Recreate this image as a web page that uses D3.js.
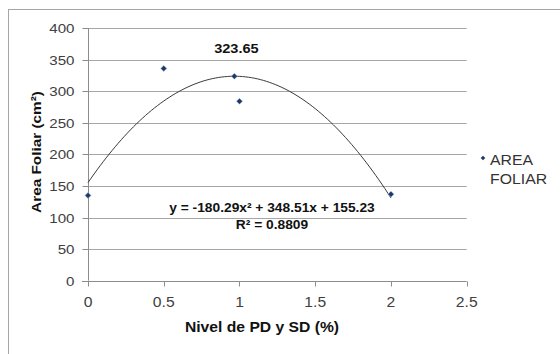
<!DOCTYPE html>
<html><head><meta charset="utf-8">
<script src="https://cdn.jsdelivr.net/npm/d3@7/dist/d3.min.js"></script>
<style>
html,body{margin:0;padding:0;background:#fff;}
svg{display:block;font-family:"Liberation Sans",Arial,sans-serif;}
</style></head>
<body>
<script>
// Data
const xValues = [0, 0.5, 0.9665, 1, 2];
const yValues = [135, 336, 323.65, 284, 137];
const xTicks = [0, 0.5, 1, 1.5, 2, 2.5];
const yTicks = [0, 50, 100, 150, 200, 250, 300, 350, 400];
const coefA = -180.29, coefB = 348.51, coefC = 155.23;
const peakLabel = "323.65";
const eqLabel = "y = -180.29x² + 348.51x + 155.23";
const r2Label = "R² = 0.8809";
const seriesName = ["AREA", "FOLIAR"];
const xTitle = "Nivel de PD y SD (%)";
const yTitle = "Area Foliar (cm²)";

const W = 560, H = 354, SX = 1.12;
const svg = d3.select("body").append("svg").attr("width", W).attr("height", H);

// outer border
svg.append("rect").attr("x", 8.5).attr("y", 9.5).attr("width", W + 10).attr("height", H + 10)
  .attr("fill", "none").attr("stroke", "#a6a6a6").attr("stroke-width", 1);

const x = d3.scaleLinear().domain([0, 2.5]).range([88, 466.7]);
const y = d3.scaleLinear().domain([0, 400]).range([280.7, 28]);

function stext(g, tx, ty, str, opts) {
  const t = g.append("text")
    .attr("transform", `translate(${tx},${ty}) scale(${opts.sx || SX},1)`)
    .attr("text-anchor", opts.anchor || "start")
    .attr("font-size", opts.size || 12)
    .attr("font-weight", opts.weight || "normal")
    .attr("fill", opts.fill || "#404040")
    .text(str);
  if (opts.family) t.attr("font-family", opts.family);
  return t;
}
const diamond = r => `M0,${-r}L${r},0L0,${r}L${-r},0Z`;

// grid
svg.append("g").selectAll("line").data(yTicks.filter(d => d > 0)).join("line")
  .attr("x1", x(0)).attr("x2", x(2.5))
  .attr("y1", d => Math.round(y(d)) + 0.5).attr("y2", d => Math.round(y(d)) + 0.5)
  .attr("stroke", "#a6a6a6").attr("stroke-width", 1);

// axes
const xa = svg.append("g").attr("transform", `translate(0,${Math.round(y(0)) + 0.5})`)
  .call(d3.axisBottom(x).tickValues(xTicks).tickSize(5).tickFormat(""));
const ya = svg.append("g").attr("transform", `translate(${Math.round(x(0)) + 0.5},0)`)
  .call(d3.axisLeft(y).tickValues(yTicks).tickSize(6).tickFormat(""));
[xa, ya].forEach(a => {
  a.select(".domain").attr("stroke", "#8c8c8c");
  a.selectAll(".tick line").attr("stroke", "#8c8c8c");
});
ya.select(".domain").attr("d", `M0,${y(400)}V${y(0)}`);
xa.select(".domain").attr("d", `M${x(0) - 6},0H${x(2.5)}`);
xa.selectAll(".tick").attr("transform", d => `translate(${Math.round(x(d)) + 0.5},0)`);
ya.selectAll(".tick").attr("transform", d => `translate(0,${Math.round(y(d)) + 0.5})`);

// tick labels
const lab = svg.append("g");
xTicks.forEach(d => stext(lab, x(d), 307, d3.format("")(d), {anchor: "middle", size: 14}));
yTicks.forEach(d => stext(lab, 74.5, y(d) + 5, String(d), {anchor: "end", size: 13.5}));

// trendline
const curveX = d3.range(0, 2.0001, 0.02);
const line = d3.line().x(d => x(d)).y(d => y(coefA * d * d + coefB * d + coefC)).curve(d3.curveMonotoneX);
svg.append("path").datum(curveX).attr("d", line).attr("fill", "none")
  .attr("stroke", "#3a3a3a").attr("stroke-width", 1);

// points
svg.append("g").selectAll("path").data(xValues.map((d, i) => [d, yValues[i]])).join("path")
  .attr("d", diamond(3)).attr("transform", d => `translate(${x(d[0])},${y(d[1])})`)
  .attr("fill", "#1f3864").attr("stroke", "#9db8de").attr("stroke-width", 0.5);

// labels
stext(svg, x(0.9665) + 2, 53, peakLabel, {anchor: "middle", size: 13, weight: "bold", fill: "#111"});
stext(svg, 272, 212, eqLabel, {anchor: "middle", size: 12.3, weight: "bold", fill: "#111"});
stext(svg, 272, 229, r2Label, {anchor: "middle", size: 12.3, weight: "bold", fill: "#111"});

// axis titles
stext(svg, 262, 332, xTitle, {anchor: "middle", size: 14, weight: "bold", fill: "#111"});
svg.append("text").attr("transform", `translate(41,152) rotate(-90) scale(${SX},1)`)
  .attr("text-anchor", "middle").attr("font-size", 13.7).attr("font-weight", "bold")
  .attr("fill", "#111").text(yTitle);

// legend
svg.append("path").attr("d", diamond(2.3))
  .attr("transform", "translate(483,158)").attr("fill", "#1f3864");
stext(svg, 490, 164.5, seriesName[0], {size: 14, sx: 1.13, fill: "#333"});
stext(svg, 490, 183.5, seriesName[1], {size: 14, sx: 1.13, fill: "#333"});
</script>
</body></html>
